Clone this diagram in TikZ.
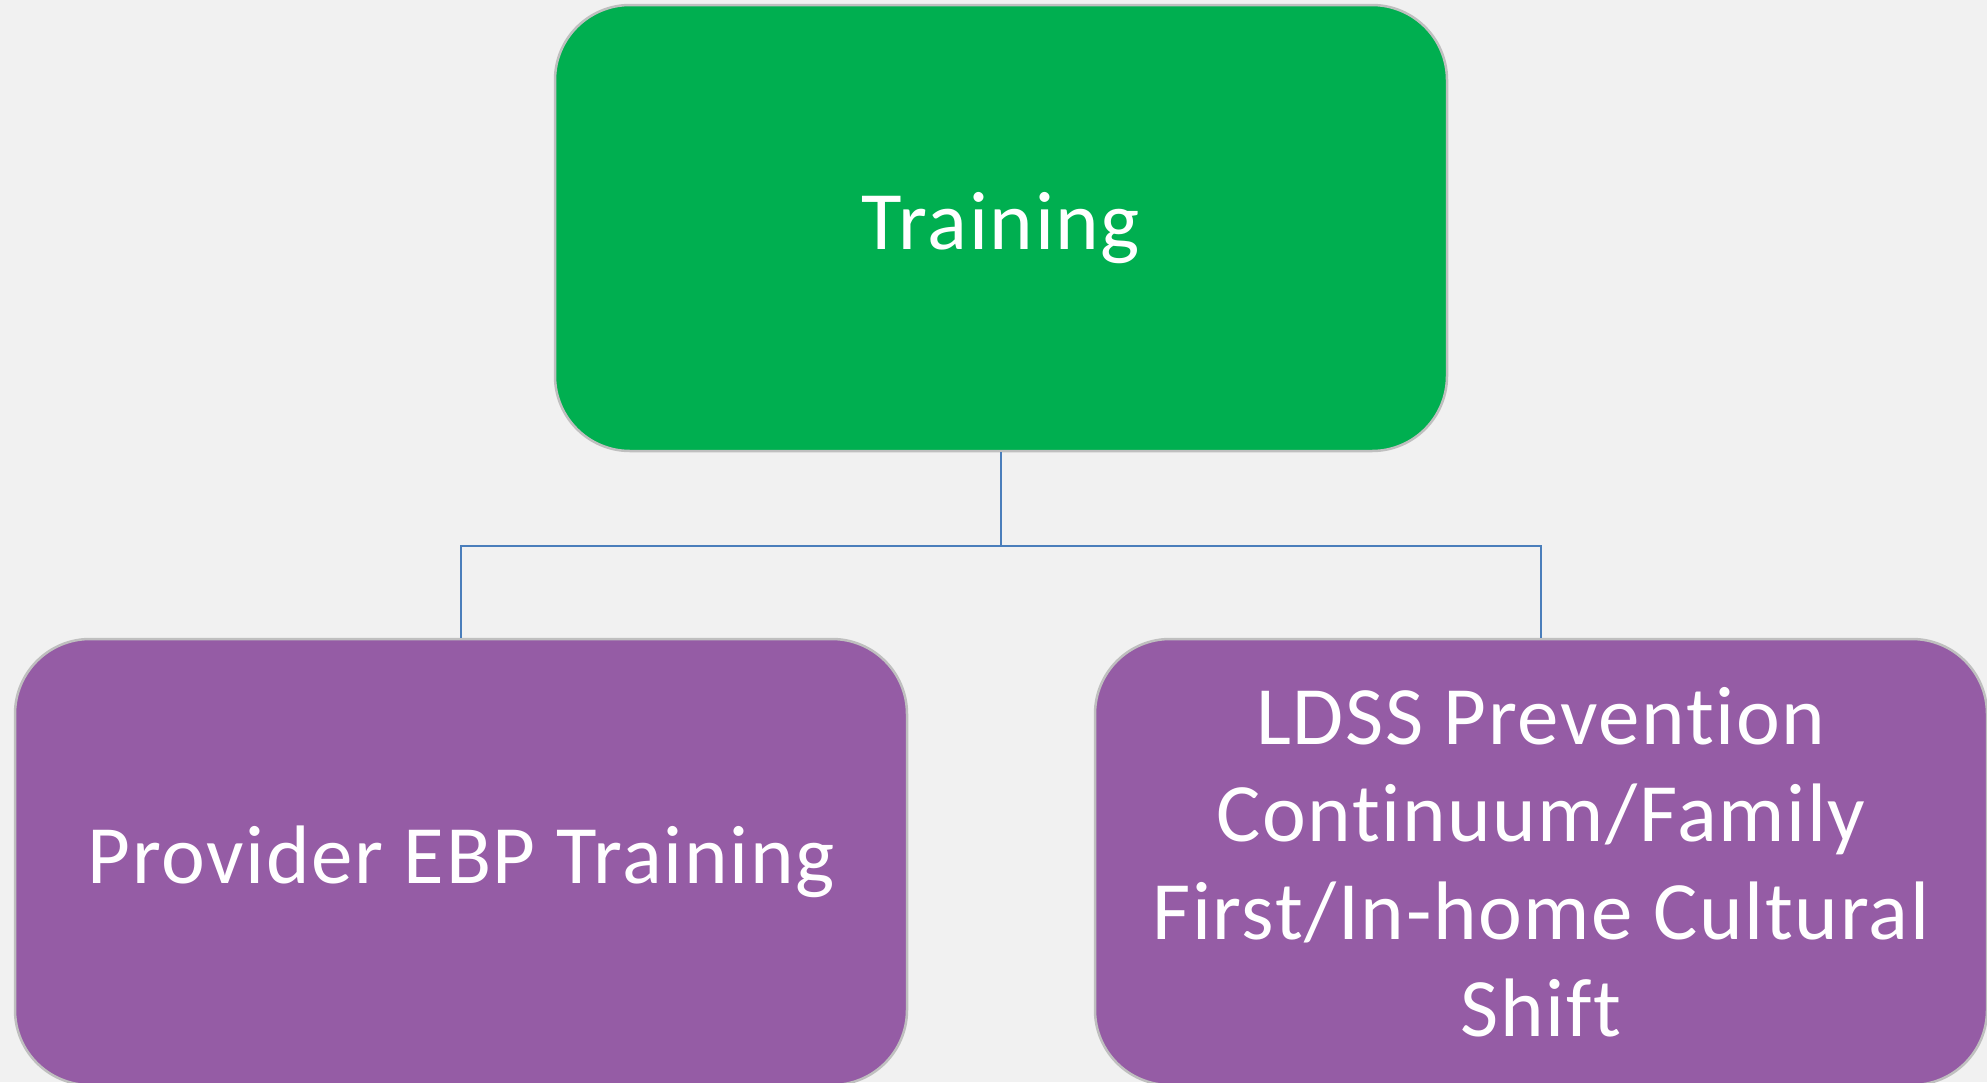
\documentclass[tikz,border=0pt]{standalone}
\usepackage{fontspec}
\setmainfont{Carlito}[Ligatures=NoCommon, LetterSpace=2]
\usepackage{tikz}
\usetikzlibrary{arrows.meta}
\definecolor{trgreen}{HTML}{00AF50}
\definecolor{trpurple}{HTML}{955CA5}
\definecolor{trline}{HTML}{4A7EBB}
\definecolor{trback}{HTML}{F1F1F1}
\tikzset{orgbox/.style={draw=black!25, line width=2.5pt, rounded corners=75pt, minimum width=892pt, minimum height=446pt, inner sep=0pt, text=white, align=center, font=\fontsize{83}{97.5}\selectfont}}
\newcommand{\orgnode}[4] {\node at (#1) (#2) [orgbox, fill=#3] {#4};}
\newcommand{\orglink}[2] {\draw [trline, line width=2pt] (#1.south) -- ++(0,-94) -| (#2.north);}

\begin{document}
\begin{tikzpicture}[x=1pt, y=1pt]
\fill [trback] (0,0) rectangle (1987,-1082);
\useasboundingbox (0,0) rectangle (1987,-1082);
\clip (0,0) rectangle (1987,-1082);

\orgnode {1001,-228} {train} {trgreen} {Training};
\orgnode {461,-862}  {ebp}   {trpurple} {Provider EBP Training};
\orgnode {1541,-862} {ldss}  {trpurple} {LDSS Prevention\\ Continuum/Family\\ First/In-home Cultural\\ Shift};

\orglink{train}{ebp};
\orglink{train}{ldss};

\end{tikzpicture}
\end{document}
